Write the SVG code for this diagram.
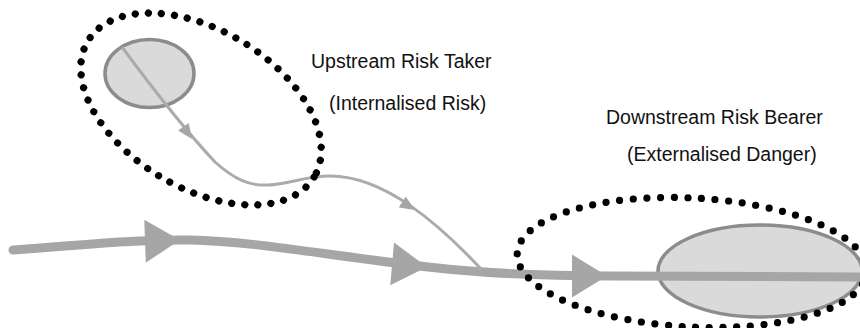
<svg xmlns="http://www.w3.org/2000/svg" width="860" height="328" viewBox="0 0 860 328">
  <style>
    .blob { fill: #dadada; stroke: #8c8c8c; stroke-width: 3.5; }
    .bound { fill: none; stroke: #000; stroke-width: 7.2; stroke-linecap: round; }
    .flow-thin { fill: none; stroke: #ababab; stroke-width: 3; }
    .flow-thick { fill: none; stroke: #a6a6a6; stroke-width: 9; stroke-linecap: round; }
    .head { fill: #a6a6a6; }
    .label { font-family: "Liberation Sans", Arial, sans-serif; font-size: 19.5px; fill: #111; }
  </style>
  <defs>
    <polygon id="bigHead" points="0,0 -35,-21.5 -35,21.5"/>
    <polygon id="smallHead" points="0,0 -15,-6.5 -15,6.5"/>
  </defs>

  <rect width="860" height="328" fill="#fff"/>

  <!-- actors -->
  <g id="upstream-taker">
    <ellipse class="blob" cx="149.5" cy="73.5" rx="44.5" ry="34"/>
  </g>
  <g id="downstream-bearer">
    <ellipse class="blob" cx="760" cy="271" rx="102" ry="46"/>
  </g>

  <!-- flows -->
  <g id="connectors">
    <path class="flow-thick" d="M13,250 C80,245 140,239 190,240 C250,241 320,254 428,267 C480,273 540,276 610,276 L866,277"/>
    <use href="#bigHead" class="head" transform="translate(180,240) rotate(-2)"/>
    <use href="#bigHead" class="head" transform="translate(427,267) rotate(5)"/>
    <use href="#bigHead" class="head" transform="translate(607,276)"/>

    <path class="flow-thin" d="M122,47 C150,85 185,130 215,162 C235,180 250,186 268,185 C290,184 305,176 330,176 C385,176 440,225 482,270"/>
    <use href="#smallHead" class="head" transform="translate(192,139) rotate(55)"/>
    <use href="#smallHead" class="head" transform="translate(415,210) rotate(32)"/>
  </g>

  <!-- risk boundaries and captions -->
  <g id="upstream-boundary">
    <ellipse class="bound" cx="201" cy="109" rx="132" ry="79" transform="rotate(31 201 109)" stroke-dasharray="0 13.1"/>
    <text class="label" x="311" y="68">Upstream Risk Taker</text>
    <text class="label" x="329" y="110">(Internalised Risk)</text>
  </g>
  <g id="downstream-boundary">
    <ellipse class="bound" cx="692" cy="262.5" rx="175" ry="64.5" transform="rotate(3 692 262.5)" stroke-dasharray="0 13.65"/>
    <text class="label" x="606" y="124">Downstream Risk Bearer</text>
    <text class="label" x="627" y="161">(Externalised Danger)</text>
  </g>
</svg>
